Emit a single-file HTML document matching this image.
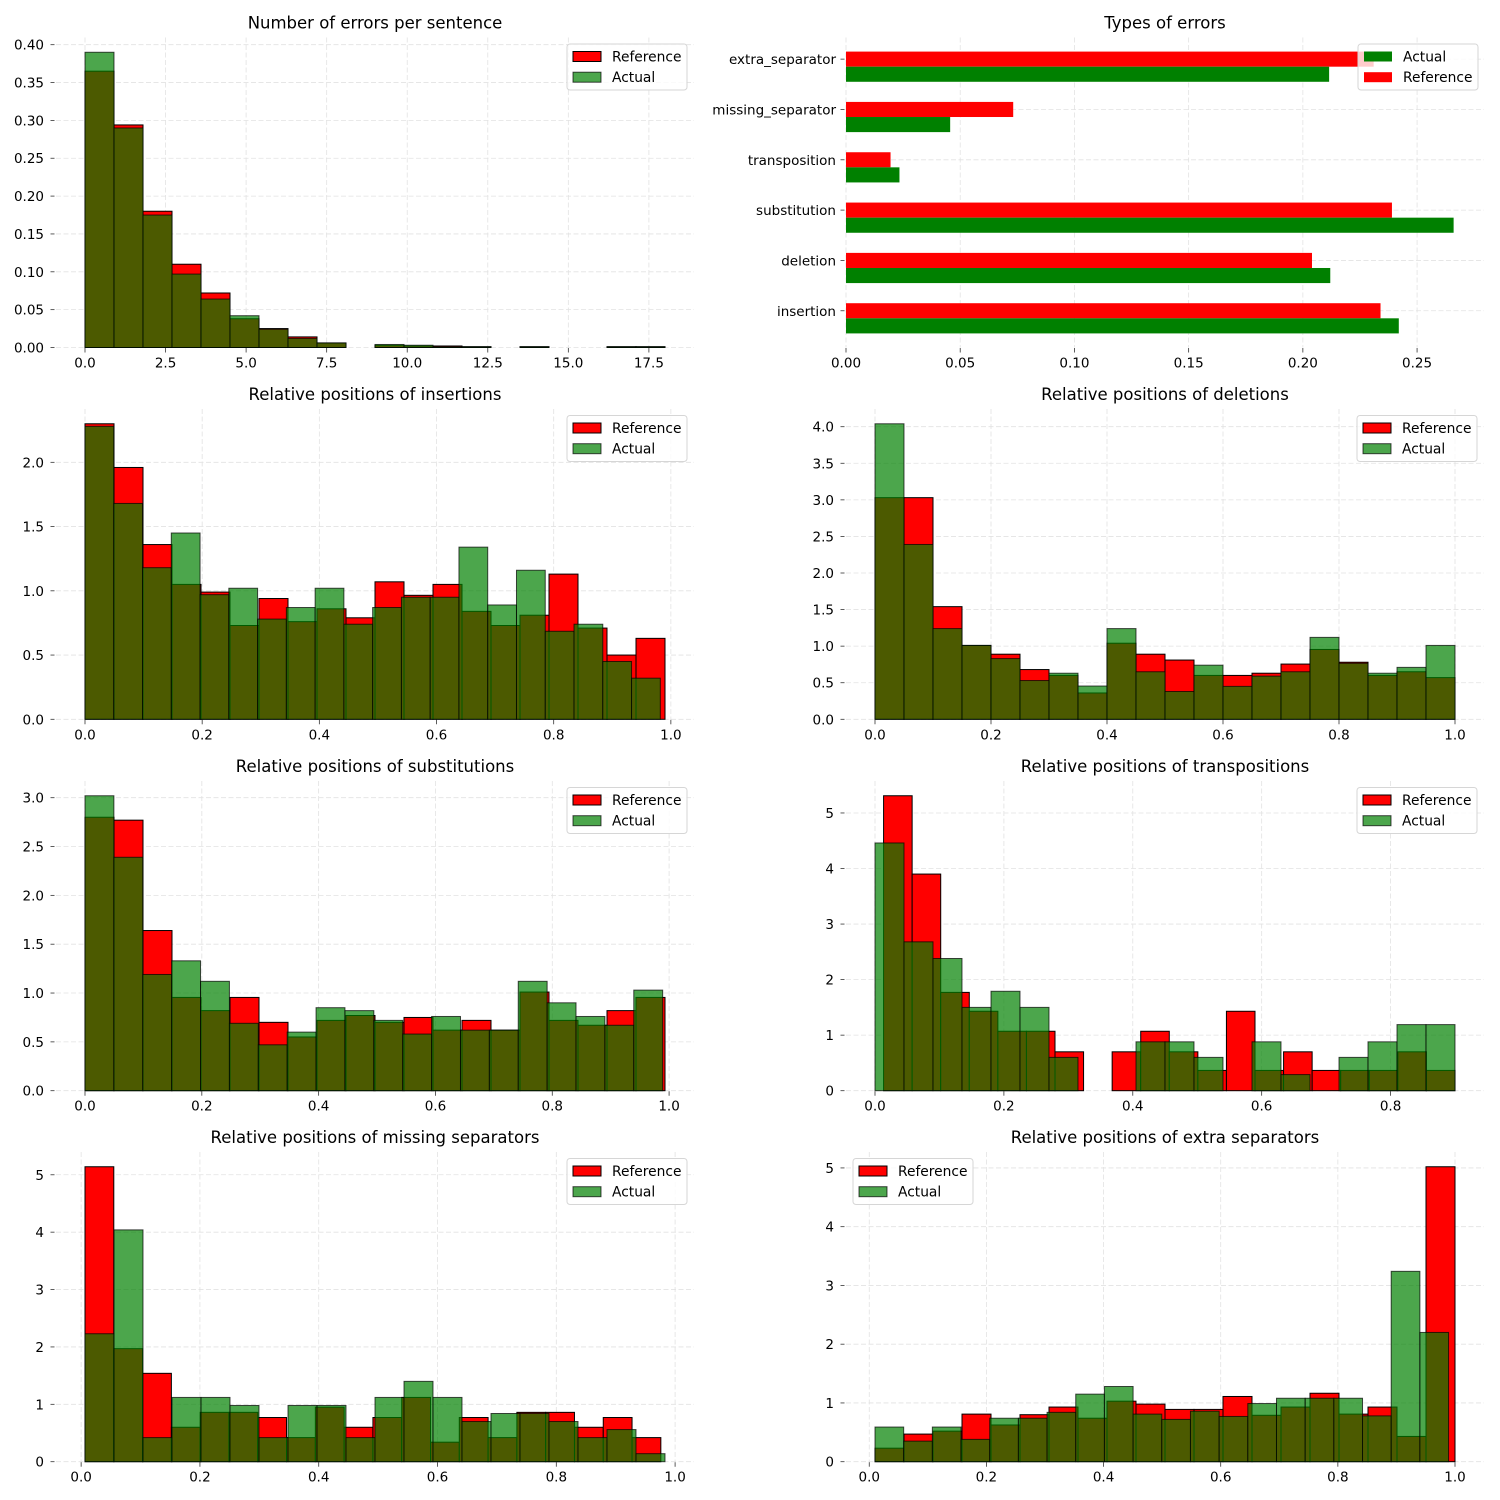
<!DOCTYPE html>
<html><head><meta charset="utf-8">
<style>
html,body{margin:0;padding:0;background:#fff;}
svg{display:block;font-family:"DejaVu Sans","Liberation Sans",sans-serif;}
</style></head>
<body>
<svg id="fig" width="1500" height="1500" viewBox="0 0 1500 1500" xmlns="http://www.w3.org/2000/svg"></svg>
<script>
// ---- data ----
const errCountRef = [0.365,0.294,0.180,0.110,0.072,0.038,0.025,0.014,0.006,0,0.003,0.002,0.002,0.001,0,0.001,0,0,0.001,0.001];
const errCountAct = [0.390,0.290,0.175,0.097,0.064,0.042,0.024,0.012,0.006,0,0.004,0.003,0.001,0.001,0,0.001,0,0,0.001,0.001];
const errCountRange = [0, 18];

const typeCategories = ["insertion","deletion","substitution","transposition","missing_separator","extra_separator"];
const typeRef = [0.234,0.204,0.239,0.0195,0.0732,0.231];
const typeAct = [0.242,0.212,0.266,0.0234,0.0456,0.2115];

const insRef = [2.30,1.96,1.36,1.05,0.99,0.73,0.94,0.76,0.86,0.79,1.07,0.965,1.05,0.84,0.73,0.81,1.13,0.71,0.50,0.63];
const insAct = [2.28,1.68,1.18,1.45,0.97,1.02,0.78,0.87,1.02,0.74,0.87,0.95,0.95,1.34,0.89,1.16,0.685,0.74,0.45,0.32];
const insRefRange = [0, 0.990];
const insActRange = [0, 0.982];

const delRef = [3.03,3.03,1.54,1.01,0.89,0.68,0.60,0.36,1.04,0.89,0.81,0.60,0.60,0.63,0.755,0.955,0.78,0.60,0.65,0.57];
const delAct = [4.04,2.39,1.24,1.01,0.83,0.53,0.63,0.455,1.24,0.65,0.38,0.74,0.45,0.59,0.65,1.12,0.765,0.63,0.71,1.01];
const delRefRange = [0, 1];
const delActRange = [0, 1];

const subRef = [2.80,2.77,1.64,0.955,0.82,0.955,0.70,0.55,0.72,0.77,0.70,0.75,0.62,0.72,0.62,1.01,0.72,0.67,0.82,0.955];
const subAct = [3.02,2.39,1.19,1.33,1.12,0.69,0.47,0.60,0.85,0.82,0.72,0.58,0.76,0.62,0.62,1.12,0.90,0.76,0.67,1.03];
const subRefRange = [0, 0.993];
const subActRange = [0, 0.989];

const trRef = [5.31,3.90,1.77,1.43,1.07,1.07,0.70,0,0.70,1.07,0.70,0.365,1.43,0.365,0.70,0.365,0.365,0.365,0.70,0.365];
const trAct = [4.46,2.68,2.38,1.50,1.79,1.50,0.60,0,0,0.88,0.88,0.60,0,0.88,0.29,0,0.60,0.88,1.19,1.19];
const trRefRange = [0.0133, 0.9];
const trActRange = [0, 0.9];

const msRef = [5.14,1.97,1.54,0.60,0.86,0.86,0.77,0.42,0.95,0.60,0.77,1.12,0.34,0.77,0.42,0.86,0.86,0.60,0.77,0.42];
const msAct = [2.23,4.04,0.42,1.12,1.12,0.98,0.42,0.98,0.98,0.42,1.12,1.40,1.12,0.70,0.84,0.84,0.70,0.42,0.56,0.14];
const msRefRange = [0.0065, 0.976];
const msActRange = [0.0065, 0.983];

const exRef = [0.23,0.47,0.52,0.81,0.625,0.80,0.93,0.74,1.03,0.98,0.89,0.89,1.11,0.79,0.93,1.165,0.81,0.93,0.43,5.02];
const exAct = [0.59,0.35,0.59,0.38,0.74,0.74,0.84,1.15,1.28,0.81,0.72,0.86,0.77,0.99,1.08,1.08,1.08,0.78,3.24,2.20];
const exRefRange = [0.0098, 1.0];
const exActRange = [0.0098, 0.989];

// ---- rendering ----
const NS = "http://www.w3.org/2000/svg";
const svg = document.getElementById('fig');
function mk(tag, attrs, parent){ const e=document.createElementNS(NS,tag); for(const k in attrs) e.setAttribute(k,attrs[k]); (parent||svg).appendChild(e); return e; }

const COLS = [[56,694],[846,1484]];
const ROWS = [[37.5,347.5],[409,719.3],[781,1090.7],[1152,1461.7]];
const RED = "#ff0000", GREEN_A = "rgba(0,128,0,0.7)", EDGE_A = "rgba(0,0,0,0.7)";

function ticks(lo, hi, step){ const out=[]; for(let k=Math.ceil(lo/step-1e-9); k*step<=hi+1e-9; k++) out.push(+(k*step).toFixed(6)); return out; }

function axesFrame(g, box, xlim, ylim, xstep, xdec, ystep, ydec, title, name){
  const sx = v => box.x0 + (v-xlim[0])/(xlim[1]-xlim[0])*(box.x1-box.x0);
  const sy = v => box.y1 - (v-ylim[0])/(ylim[1]-ylim[0])*(box.y1-box.y0);
  const t = mk('text',{x:(box.x0+box.x1)/2, y:box.y0-9, 'text-anchor':'middle','font-size':16.5,fill:'#000'}, g);
  t.textContent = title;
  
  
  const grid = mk('g',{}, g);
  
  
  return {sx, sy, grid};
}

function drawTicksX(g, ax, box, vals, dec, name){
  vals.forEach(v=>{
    const x = ax.sx(v);
    mk('line',{x1:x,x2:x,y1:box.y0,y2:box.y1,stroke:'#e2e2e2','stroke-width':0.8,'stroke-dasharray':'5,2.5'}, ax.grid);
    mk('line',{x1:x,x2:x,y1:box.y1+0.5,y2:box.y1+5,stroke:'#333','stroke-width':0.8}, g);
    const t = mk('text',{x:x,y:box.y1+20,'text-anchor':'middle','font-size':13.5,fill:'#000'}, g);
    t.textContent = v.toFixed(dec);
    
    
  });
}
function drawTicksY(g, ax, box, vals, dec, name){
  vals.forEach(v=>{
    const y = ax.sy(v);
    mk('line',{x1:box.x0,x2:box.x1,y1:y,y2:y,stroke:'#e2e2e2','stroke-width':0.8,'stroke-dasharray':'5,2.5'}, ax.grid);
    mk('line',{x1:box.x0-5.5,x2:box.x0-1.5,y1:y,y2:y,stroke:'#333','stroke-width':0.8}, g);
    const t = mk('text',{x:box.x0-12,y:y+5,'text-anchor':'end','font-size':13.5,fill:'#000'}, g);
    t.textContent = v.toFixed(dec);
    
    
  });
}

function legend(g, x, y, entries, name){
  const lg = mk('g',{}, g);
  
  
  mk('rect',{x:x,y:y,width:120,height:46,rx:3,fill:'rgba(255,255,255,0.8)',stroke:'#d6d6d6','stroke-width':1}, lg);
  entries.forEach((e,i)=>{
    const r = mk('rect',{x:x+6,y:y+7.5+i*20.7,width:28,height:10,fill:e.fill,stroke:e.stroke||'none','stroke-width':1}, lg);
    
    
    const t = mk('text',{x:x+45,y:y+17.5+i*20.7,'font-size':13.8,fill:'#000'}, lg);
    t.textContent = e.label;
    
    
  });
}

function histPanel(opt){
  const box = {x0:COLS[opt.col][0], x1:COLS[opt.col][1], y0:ROWS[opt.row][0], y1:ROWS[opt.row][1]};
  const g = mk('g',{});
  
  
  const lo = Math.min(opt.refRange[0], opt.actRange[0]), hi = Math.max(opt.refRange[1], opt.actRange[1]);
  const m = (hi-lo)*0.05;
  const xlim = [lo-m, hi+m];
  const ymax = Math.max(...opt.ref, ...opt.act)*1.05;
  const ylim = [0, ymax];
  const ax = axesFrame(g, box, xlim, ylim, 0,0,0,0, opt.title, opt.name);
  drawTicksX(g, ax, box, ticks(xlim[0], xlim[1], opt.xstep), opt.xdec, opt.name);
  drawTicksY(g, ax, box, ticks(0, ymax, opt.ystep), opt.ydec, opt.name);
  const series = [[opt.ref, opt.refRange, RED, '#000', 'reference'], [opt.act, opt.actRange, GREEN_A, EDGE_A, 'actual']];
  series.forEach(([vals, rng, fill, stroke, sname])=>{
    const sg = mk('g',{}, g);
    
    
    const w = (rng[1]-rng[0])/vals.length;
    vals.forEach((v,i)=>{
      if(v<=0) return;
      const xa = ax.sx(rng[0]+i*w), xb = ax.sx(rng[0]+(i+1)*w);
      const ya = ax.sy(v), yb = ax.sy(0);
      const r = mk('rect',{x:xa,y:ya,width:xb-xa,height:yb-ya,fill:fill,stroke:stroke,'stroke-width':1}, sg);
      
      
    });
  });
  const lx = opt.legendLeft ? box.x0+7 : box.x1-127;
  legend(g, lx, box.y0+6.5, [{label:'Reference',fill:RED,stroke:'#000'},{label:'Actual',fill:GREEN_A,stroke:EDGE_A}], opt.name);
}

function typesPanel(){
  const box = {x0:COLS[1][0], x1:COLS[1][1], y0:ROWS[0][0], y1:ROWS[0][1]};
  const g = mk('g',{});
  
  
  const h = 0.3;
  const xlim = [0, Math.max(...typeRef, ...typeAct)*1.05];
  const ylo = -h - h/2, yhi = (typeCategories.length-1) + h/2, m = (yhi-ylo)*0.05;
  const ylim = [ylo-m, yhi+m];
  const ax = axesFrame(g, box, xlim, ylim, 0,0,0,0, 'Types of errors', 'types-of-errors');
  drawTicksX(g, ax, box, ticks(0, xlim[1], 0.05), 2, 'types-of-errors');
  typeCategories.forEach((c,i)=>{
    const y = ax.sy(i);
    mk('line',{x1:box.x0,x2:box.x1,y1:y,y2:y,stroke:'#e2e2e2','stroke-width':0.8,'stroke-dasharray':'5,2.5'}, ax.grid);
    mk('line',{x1:box.x0-5.5,x2:box.x0-1.5,y1:y,y2:y,stroke:'#333','stroke-width':0.8}, g);
    const t = mk('text',{x:box.x0-10,y:y+5,'text-anchor':'end','font-size':13.5,fill:'#000'}, g);
    t.textContent = c;
    
    
  });
  typeCategories.forEach((c,i)=>{
    const ra = ax.sy(i+h/2), rb = ax.sy(i-h/2);
    const r = mk('rect',{x:ax.sx(0),y:ra,width:ax.sx(typeRef[i])-ax.sx(0),height:rb-ra,fill:RED}, g);
    
    
    const ga = ax.sy(i-h/2), gb = ax.sy(i-1.5*h);
    const q = mk('rect',{x:ax.sx(0),y:ga,width:ax.sx(typeAct[i])-ax.sx(0),height:gb-ga,fill:'#008000'}, g);
    
    
  });
  legend(g, box.x1-126, box.y0+6.5, [{label:'Actual',fill:'#008000'},{label:'Reference',fill:RED}], 'types-of-errors');
}

histPanel({name:'errors-per-sentence',title:'Number of errors per sentence',row:0,col:0,ref:errCountRef,act:errCountAct,refRange:errCountRange,actRange:errCountRange,xstep:2.5,xdec:1,ystep:0.05,ydec:2});
typesPanel();
histPanel({name:'insertions',title:'Relative positions of insertions',row:1,col:0,ref:insRef,act:insAct,refRange:insRefRange,actRange:insActRange,xstep:0.2,xdec:1,ystep:0.5,ydec:1});
histPanel({name:'deletions',title:'Relative positions of deletions',row:1,col:1,ref:delRef,act:delAct,refRange:delRefRange,actRange:delActRange,xstep:0.2,xdec:1,ystep:0.5,ydec:1});
histPanel({name:'substitutions',title:'Relative positions of substitutions',row:2,col:0,ref:subRef,act:subAct,refRange:subRefRange,actRange:subActRange,xstep:0.2,xdec:1,ystep:0.5,ydec:1});
histPanel({name:'transpositions',title:'Relative positions of transpositions',row:2,col:1,ref:trRef,act:trAct,refRange:trRefRange,actRange:trActRange,xstep:0.2,xdec:1,ystep:1,ydec:0});
histPanel({name:'missing-separators',title:'Relative positions of missing separators',row:3,col:0,ref:msRef,act:msAct,refRange:msRefRange,actRange:msActRange,xstep:0.2,xdec:1,ystep:1,ydec:0});
histPanel({name:'extra-separators',title:'Relative positions of extra separators',row:3,col:1,ref:exRef,act:exAct,refRange:exRefRange,actRange:exActRange,xstep:0.2,xdec:1,ystep:1,ydec:0,legendLeft:true});
</script>
</body></html>
